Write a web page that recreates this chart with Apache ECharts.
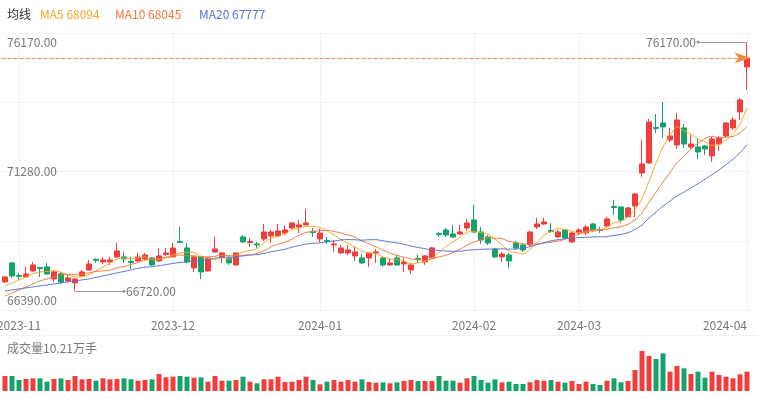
<!DOCTYPE html>
<html>
<head>
<meta charset="utf-8">
<script src="https://cdn.jsdelivr.net/npm/echarts@6/dist/echarts.min.js"></script>
<style>
html, body { margin: 0; padding: 0; background: #fff; }
#main { width: 758px; height: 399px; }
</style>
</head>
<body>
<div id="main"></div>
<script>
// 日K 数据 (2023-10-30 ~ 2024-04)
const opens = [
  67074,67794,67320,67264,67491,67624,67643,67188,67377,67112,
  67036,67302,67529,67927,67832,67832,68022,68022,67851,67870,
  67946,67984,67870,68116,68022,68609,68363,67605,68022,67491,
  68211,68022,67984,67718,68780,68571,68514,68704,68818,68818,
  68931,69121,69159,69234,68988,68704,68647,68476,68173,68173,
  68060,67984,67984,68173,67984,67718,67984,67756,67529,67965,
  67832,67984,68912,69045,68893,68893,69121,69424,68969,68780,
  68325,68022,68097,68552,68476,68476,69159,69272,69026,68780,
  69045,68590,68931,68931,69272,69064,69197,69936,69917,69538,
  69955,71205,71584,72930,73100,72456,72267,72911,72191,72191,
  72229,71850,72304,72608,72911,73517,75223
]
const closes = [
  67264,67302,67283,67377,67718,67586,67377,67453,67074,67226,
  67188,67453,67756,67889,67908,67908,68249,67946,67813,68022,
  68097,67718,68060,68173,68363,68571,67832,68022,67453,67984,
  68325,68173,67794,68173,68590,68609,68476,68969,68969,69007,
  69045,69310,69234,69310,68950,68931,68609,68514,68363,68287,
  68211,67794,68173,68211,67718,67794,67718,67832,67718,67927,
  68060,68363,68874,68855,68780,68969,69310,68969,68666,68552,
  68022,68135,67870,68363,68287,68969,69272,69348,68988,68969,
  68742,68931,69045,69159,69045,69026,69462,69898,69424,69879,
  70409,71546,73138,72892,72949,72608,73214,72304,72304,72001,
  72115,72494,72532,73100,73214,73972,75564
]
const lows = [
  67036,67226,67150,67264,67453,67264,67339,67074,66998,67074,
  66720,67264,67491,67794,67756,67718,67984,67794,67567,67832,
  67908,67681,67832,68060,68022,68552,67794,67453,67188,67453,
  68173,67794,67718,67681,68552,68401,68363,68628,68552,68780,
  68855,69083,68931,69234,68780,68590,68514,68211,68135,68097,
  67870,67756,67643,67794,67643,67681,67681,67453,67377,67794,
  67718,67946,68780,68780,68742,68855,69007,68931,68514,68476,
  67984,67832,67605,68287,68211,68439,69083,69234,68931,68742,
  68704,68552,68855,68855,69007,68931,69159,69613,69310,69538,
  69538,71054,71546,72721,72532,72380,72115,72153,72115,71736,
  71888,71622,72039,72532,72835,73214,74351
]
const highs = [
  67302,67832,67415,67643,67832,67643,67794,67529,67453,67339,
  67200,67529,67908,67984,68022,68022,68552,68211,68022,68173,
  68173,68022,68363,68363,68552,69159,68552,68060,68060,68022,
  68780,68211,68022,68173,68855,68742,68590,69272,69045,69272,
  69197,69348,69424,69841,69121,69083,68780,68666,68476,68476,
  68401,68135,68211,68325,68022,67984,68097,67984,67794,68097,
  68097,68401,68969,69121,69234,69234,69462,69992,69159,68855,
  68363,68211,68173,68628,68552,69007,69500,69500,69310,69045,
  69083,68969,69121,69234,69310,69159,69538,70182,69917,69917,
  70447,72456,73252,73441,73896,72911,73479,73062,72645,72494,
  72267,72570,72608,73138,73328,74048,76170
]
// 成交量 (手)
const volumes = [
  79200,79200,58100,63400,66900,66900,49300,63400,66900,58100,
  79200,61600,63400,54600,66900,61600,63400,66900,61600,54600,
  58100,61600,89800,72200,75700,79200,75700,70400,72200,49300,
  79200,54600,54600,58100,75700,49300,40500,61600,61600,75700,
  47500,49300,58100,75700,58100,35200,49300,58100,49300,58100,
  49300,61600,47500,44000,45800,40500,45800,52800,58100,52800,
  52800,52800,79200,54600,54600,44000,66900,79200,58100,44000,
  61600,45800,49300,37000,37000,45800,58100,54600,58100,49300,
  44000,52800,37000,49300,37000,31700,54600,66900,45800,52800,
  110900,211200,184800,169000,198900,102100,132000,119700,89800,102100,
  70400,102100,84500,75700,66900,88000,102100
]
const ma5 = [
  66923,67036,67150,67264,67389,67453,67468,67503,67442,67343,
  67264,67279,67339,67503,67639,67783,67942,67980,67965,67988,
  68026,67919,67942,68014,68094,68177,68200,68192,68048,67972,
  67923,67991,67946,68090,68211,68268,68329,68564,68723,68806,
  68893,69060,69113,69181,69170,69147,69007,68863,68674,68542,
  68397,68234,68166,68135,68022,67938,67923,67855,67756,67798,
  67851,67980,68188,68416,68586,68768,68958,68977,68939,68893,
  68704,68469,68249,68188,68135,68325,68552,68848,68973,69109,
  69064,68996,68935,68969,68984,69041,69147,69318,69371,69538,
  69814,70231,70879,71573,72187,72627,72960,72793,72676,72486,
  72388,72244,72289,72448,72691,73062,73676
]
const ma10 = [
  66544,66657,66771,66885,66998,67112,67188,67264,67321,67366,
  67358,67374,67419,67472,67491,67521,67609,67658,67734,67813,
  67904,67931,67961,67988,68045,68101,68060,68067,68029,68026,
  68048,68094,68067,68067,68090,68094,68158,68253,68405,68507,
  68579,68693,68837,68950,68988,69019,69034,68988,68928,68855,
  68772,68621,68514,68405,68279,68166,68079,68010,67946,67908,
  67893,67950,68022,68086,68192,68310,68469,68583,68677,68738,
  68734,68712,68613,68564,68514,68514,68510,68549,68579,68621,
  68693,68772,68893,68969,69045,69053,69072,69125,69170,69261,
  69428,69689,70099,70470,70860,71221,71596,71834,72123,72335,
  72505,72600,72539,72562,72589,72725,72960
]
const ma20 = [
  66733,66771,66809,66847,66885,66923,66960,66998,67036,67074,
  67112,67150,67188,67245,67302,67359,67415,67472,67529,67590,
  67631,67650,67688,67730,67777,67810,67832,67863,67882,67919,
  67976,68010,68014,68026,68060,68097,68109,68158,68215,68264,
  68314,68393,68450,68507,68537,68556,68594,68621,68666,68681,
  68674,68655,68674,68677,68632,68590,68556,68499,68435,68382,
  68333,68283,68268,68245,68234,68238,68272,68295,68310,68321,
  68314,68329,68317,68325,68351,68412,68488,68564,68628,68677,
  68712,68742,68753,68765,68780,68784,68791,68837,68874,68939,
  69060,69231,69496,69720,69951,70137,70334,70478,70644,70796,
  70967,71145,71319,71516,71725,71971,72278
]
const tickIdx = [2, 24, 45, 67, 82, 106]
const tickText = ['2023-11', '2023-12', '2024-01', '2024-02', '2024-03', '2024-04']
const yLabels = [66390, 71280, 76170]
const legendIdx = 24

// 交易日
const holidays = ['2024-01-01', '2024-02-09', '2024-02-12', '2024-02-13', '2024-02-14',
  '2024-02-15', '2024-02-16', '2024-04-04', '2024-04-05']
const dates = []
let d = new Date(Date.UTC(2023, 9, 30))
while (dates.length < closes.length) {
  const s = d.toISOString().slice(0, 10)
  const wd = d.getUTCDay()
  if (wd !== 0 && wd !== 6 && holidays.indexOf(s) < 0) dates.push(s)
  d = new Date(d.getTime() + 86400000)
}

const RED = '#f23d3d'
const GREEN = '#14a36b'
const C5 = '#f5a623'
const C10 = '#f0773a'
const C20 = '#5b6fd6'

const kData = opens.map((o, i) => [o, closes[i], lows[i], highs[i]])
const volData = volumes.map((v, i) => ({
  value: v,
  itemStyle: { color: closes[i] >= opens[i] ? RED : GREEN }
}))
const hiVal = Math.max(...highs)
const hiIdx = highs.indexOf(hiVal)
const loVal = Math.min(...lows)
const loIdx = lows.indexOf(loVal)
const last = closes.length - 1

const myChart = echarts.init(document.getElementById('main'))
const font = '"Noto Sans CJK SC", "Noto Sans", sans-serif'

const option = {
  animation: false,
  textStyle: { fontFamily: font },
  graphic: [
    { type: 'text', left: 7, top: 8, style: { text: '均线', fill: '#333', font: '12px ' + font } },
    { type: 'text', left: 40, top: 8, style: { text: 'MA5 ' + ma5[legendIdx], fill: C5, font: '12px ' + font } },
    { type: 'text', left: 115, top: 8, style: { text: 'MA10 ' + ma10[legendIdx], fill: C10, font: '12px ' + font } },
    { type: 'text', left: 199, top: 8, style: { text: 'MA20 ' + ma20[legendIdx], fill: C20, font: '12px ' + font } },
    { type: 'text', left: 7, top: 342, style: { text: '成交量' + (volumes[last] / 10000).toFixed(2) + '万手', fill: '#777', font: '12px ' + font } },
    { type: 'line', shape: { x1: 0, y1: 335.5, x2: 758, y2: 335.5 }, style: { stroke: '#f3f3f3', lineWidth: 1 } }
  ],
  grid: [
    { left: 1.5, right: 7.5, top: 33, height: 277, outerBoundsMode: 'none', containLabel: false },
    { left: 1.5, right: 7.5, top: 351, height: 40, outerBoundsMode: 'none', containLabel: false }
  ],
  xAxis: [
    {
      type: 'category', gridIndex: 0, data: dates, boundaryGap: true,
      axisLine: { show: false }, axisTick: { show: false },
      axisLabel: {
        interval: (i) => tickIdx.indexOf(i) >= 0,
        formatter: (v, i) => tickText[tickIdx.indexOf(i)],
        color: '#777', fontSize: 12, margin: 9, alignMaxLabel: 'right'
      },
      splitLine: {
        show: true, alignWithLabel: true,
        interval: (i) => tickIdx.indexOf(i) >= 0,
        lineStyle: { color: '#f2f2f2', width: 1 }
      }
    },
    {
      type: 'category', gridIndex: 1, data: dates, boundaryGap: true,
      axisLine: { show: false }, axisTick: { show: false }, axisLabel: { show: false },
      splitLine: { show: false }
    }
  ],
  yAxis: [
    {
      type: 'value', gridIndex: 0, min: 66010, max: 76510, position: 'left',
      axisLine: { show: false }, axisTick: { show: false }, splitLine: { show: false },
      axisLabel: {
        inside: true, customValues: yLabels, margin: 5.5,
        formatter: (v) => v.toFixed(2), color: '#777', fontSize: 12
      }
    },
    {
      type: 'value', gridIndex: 0, min: 0, max: 4, interval: 1, position: 'right',
      axisLine: { show: false }, axisTick: { show: false }, axisLabel: { show: false },
      splitLine: { show: true, lineStyle: { color: '#f2f2f2', width: 1 } }
    },
    {
      type: 'value', gridIndex: 1, min: 0, max: 'dataMax', show: false,
      splitLine: { show: false }
    }
  ],
  series: [
    {
      type: 'candlestick', name: 'K', xAxisIndex: 0, yAxisIndex: 0,
      data: kData, barWidth: 5,
      itemStyle: { color: RED, color0: GREEN, borderColor: RED, borderColor0: GREEN, borderWidth: 1 },
      markLine: {
        silent: true, animation: false,
        data: [
          {
            yAxis: closes[last], symbol: 'none',
            lineStyle: { type: 'dashed', color: '#f08a45', width: 1 },
            label: { show: false }
          },
          [
            { coord: [dates[hiIdx], hiVal], symbol: 'none' },
            {
              coord: [dates[hiIdx - 7], hiVal], symbol: 'circle', symbolSize: 3,
              lineStyle: { type: 'solid', color: '#999', width: 1 },
              label: { show: true, position: 'end', distance: 2, formatter: hiVal.toFixed(2), color: '#777', fontSize: 12 }
            }
          ],
          [
            { coord: [dates[loIdx], loVal], symbol: 'none' },
            {
              coord: [dates[loIdx + 7], loVal], symbol: 'circle', symbolSize: 3,
              lineStyle: { type: 'solid', color: '#999', width: 1 },
              label: { show: true, position: 'end', distance: 2, formatter: loVal.toFixed(2), color: '#777', fontSize: 12 }
            }
          ]
        ]
      }
    },
    { type: 'line', name: 'MA5', data: ma5, showSymbol: false, smooth: 0.2, lineStyle: { width: 1, color: C5 }, itemStyle: { color: C5 } },
    { type: 'line', name: 'MA10', data: ma10, showSymbol: false, smooth: 0.2, lineStyle: { width: 1, color: C10 }, itemStyle: { color: C10 } },
    { type: 'line', name: 'MA20', data: ma20, showSymbol: false, smooth: 0.2, lineStyle: { width: 1, color: C20 }, itemStyle: { color: C20 } },
    {
      type: 'bar', name: 'VOL', xAxisIndex: 1, yAxisIndex: 2,
      data: volData, barWidth: 5
    }
  ]
}
myChart.setOption(option)
</script>
</body>
</html>
